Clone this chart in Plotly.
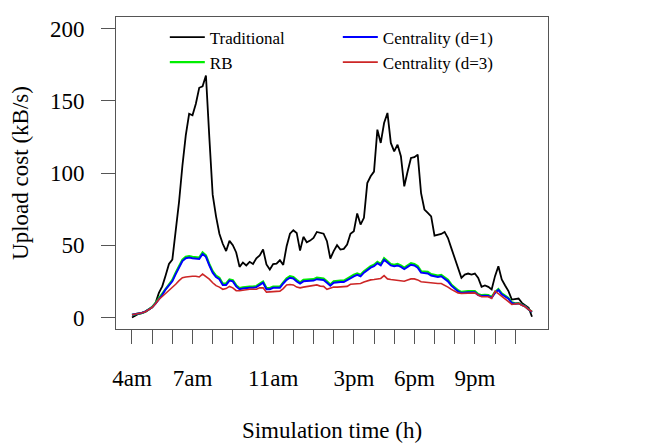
import plotly.graph_objects as go

# Sampling times (hours), every 10 minutes from 4:00
time_h = [4 + k / 6 for k in range(120)]

traditional = [0, 1.5, 2.5, 3, 4, 5.5, 7, 10, 17, 21.5,
               29, 37, 40, 58, 80, 105, 126, 141, 140, 148,
               159, 160, 167.5, 125, 85, 70, 58, 51, 46, 53,
               50, 45, 35, 38, 36, 38.5, 37, 41, 43, 47,
               36.7, 33.2, 37, 37.3, 39.6, 36.4, 49.3, 58, 60.4, 58.5,
               46.3, 55.8, 52, 53.2, 55, 59.2, 58.5, 58, 52.8, 40.8,
               45.9, 50, 47, 47.5, 50.5, 57.9, 59.7, 72, 64.3, 69,
               93, 97.7, 101, 130, 120.8, 134.6, 141.6, 120.8, 115, 119.6,
               111.6, 90.8, 101, 110.4, 111, 112.7, 86, 74.7, 72.4, 70,
               56.7, 57.4, 57.8, 59.2, 55, 48, 41, 33, 27.4, 29.7,
               30.4, 29.7, 30.4, 27.4, 21.2, 22.1, 21.2, 19.4, 28.6, 35.5,
               26.3, 22.1, 18.2, 12.4, 12.9, 13.1, 10.1, 8.3, 6.7, 0.5]

rb = [1.8, 2.2, 2.8, 3.2, 4, 5.6, 7.3, 10, 13.2, 16.3,
      20.3, 23, 26, 31, 35.5, 40, 42, 42.5, 42, 41.5,
      41.5, 45, 43, 37, 32, 29, 27.5, 23.5, 23.5, 26.3,
      25.8, 22.3, 20.3, 20.8, 21.3, 21.3, 21.3, 21.8, 23.3, 24.8,
      20.3, 20.3, 21.3, 21.3, 21.3, 24.3, 27, 28.5, 28, 26,
      24.3, 26, 26, 26, 26.5, 27.5, 27.5, 27, 25, 22.8,
      25, 25.5, 25.5, 25.5, 27, 28.5, 29.5, 30.5, 29.5, 32,
      34, 35.5, 36.5, 38.5, 37, 41, 39, 37, 36.5, 37,
      36, 34.5, 36, 37.5, 37, 35.5, 32, 31.5, 31.5, 30,
      29.5, 29, 29.5, 28, 26, 22.8, 20.8, 18.8, 17.7, 18.2,
      18.2, 18.2, 18.2, 16.2, 15.4, 15.6, 15.4, 14.2, 17.7, 19.7,
      16.6, 15, 13.4, 10.4, 9.8, 10, 8.8, 7.7, 5.6, 3.8]

centrality_d1 = [1.8, 2.2, 2.8, 3.2, 4, 5.5, 7, 9.5, 12.5, 15.5,
                 19.5, 22, 25, 30, 34.5, 39, 41, 41.5, 41, 40.5,
                 40.5, 44, 42, 36, 31, 28, 26.5, 22.5, 22.5, 25.5,
                 25, 21.5, 19.5, 20, 20.5, 20.5, 20.5, 21, 22.5, 24,
                 19.5, 19.5, 20.5, 20.5, 20.5, 23.5, 26, 27.5, 27, 25,
                 23.5, 25, 25, 25, 25.5, 26.5, 26.5, 26, 24, 22,
                 24, 24.5, 24.5, 24.5, 26, 27.5, 28.5, 29.5, 28.5, 31,
                 33, 34.5, 35.5, 37.5, 36, 40, 38, 36, 35.5, 36,
                 35, 33.5, 35, 36.5, 36, 34.5, 31, 30.5, 30.5, 29,
                 28.5, 28, 28.5, 27, 25, 22, 20, 18, 17, 17.5,
                 17.5, 17.5, 17.5, 15.5, 14.8, 15, 14.8, 13.6, 17, 19,
                 16, 14.5, 13, 10, 9.5, 9.7, 8.5, 7.5, 5.5, 3.8]

centrality_d3 = [1.8, 2.2, 2.8, 3.2, 4, 5.5, 7, 9.5, 12.5, 14.5,
                 16.5, 18.5, 20.5, 23, 25.5, 27.5, 28, 28.5, 28.5, 28.5,
                 28, 30, 28.5, 26.5, 24, 22, 21, 19.5, 20, 21.5,
                 20.5, 18.5, 18.5, 19, 19.5, 19.5, 19.5, 19.5, 20.5, 20.5,
                 17.5, 17.8, 18, 18.2, 18.2, 20, 22.5, 22.8, 22.5, 21,
                 20.5, 21, 21.5, 22, 22.5, 22.5, 21.7, 21.5, 19.5, 20.5,
                 21, 21, 21, 21, 21.5, 23, 23, 23.3, 23.5, 24.5,
                 25.5, 26, 26.3, 26.5, 27, 29, 26.7, 26.3, 26, 25.8,
                 25.3, 25.1, 26, 26.7, 26.7, 26, 24.7, 24.4, 24.4, 24,
                 23.5, 23.5, 23.5, 22.5, 21, 19.4, 18, 17, 16.6, 16.8,
                 17, 17, 17, 15.5, 14.3, 14.3, 14.3, 13.1, 18.2, 16.5,
                 14.8, 13, 11, 9, 9.5, 9.7, 8.5, 7.4, 5.5, 4.1]

hour_ticks = list(range(4, 24))
hour_labels = {4: "4am", 7: "7am", 11: "11am", 15: "3pm", 18: "6pm", 21: "9pm"}
y_ticks = [0, 50, 100, 150, 200]

FONT = "Liberation Serif, Times New Roman, serif"
FRAME = "#555555"

fig = go.Figure()
series = [
    ("Traditional", traditional, "#000000", 1.8, 1),
    ("RB", rb, "#00ee00", 2.2, 3),
    ("Centrality (d=1)", centrality_d1, "#0000ff", 2.0, 2),
    ("Centrality (d=3)", centrality_d3, "#cd2626", 1.6, 4),
]
for name, vals, color, w, rank in series:
    fig.add_trace(go.Scatter(x=time_h, y=vals, mode="lines", name=name,
                             line=dict(color=color, width=w), legendrank=rank))

# The page body has an 8px default margin, so the figure is 8px smaller
# and its margins are shifted to keep the plot box where the reference has it.
fig.update_layout(
    width=656, height=435,
    margin=dict(l=108, r=116, t=9, b=114, autoexpand=False),
    paper_bgcolor="white", plot_bgcolor="white",
    font=dict(family=FONT, size=23, color="black"),
    showlegend=True,
    legend=dict(orientation="h", x=0.113, y=0.992, xanchor="left", yanchor="top",
                bgcolor="rgba(0,0,0,0)", font=dict(family=FONT, size=17),
                entrywidth=123, entrywidthmode="pixels", itemwidth=35,
                traceorder="normal"),
)
fig.update_xaxes(
    range=[3.207, 24.627], showgrid=False, zeroline=False, automargin=False,
    showline=True, mirror=True, linecolor=FRAME, linewidth=1,
    tickmode="array", tickvals=hour_ticks,
    ticktext=[hour_labels.get(h, "") for h in hour_ticks],
    ticks="outside", ticklen=14, tickcolor=FRAME, tickwidth=1,
    ticklabelstandoff=14,
    tickfont=dict(family=FONT, size=23),
    title=dict(text="Simulation time (h)", font=dict(family=FONT, size=23), standoff=33),
)
fig.update_yaxes(
    range=[-8, 208], showgrid=False, zeroline=False, automargin=False,
    showline=True, mirror=True, linecolor=FRAME, linewidth=1,
    tickmode="array", tickvals=y_ticks,
    ticks="outside", ticklen=14, tickcolor=FRAME, tickwidth=1,
    ticklabelstandoff=12,
    tickfont=dict(family=FONT, size=23),
    title=dict(text="Upload cost (kB/s)", font=dict(family=FONT, size=23), standoff=18),
)

fig.write_html("out.html")
